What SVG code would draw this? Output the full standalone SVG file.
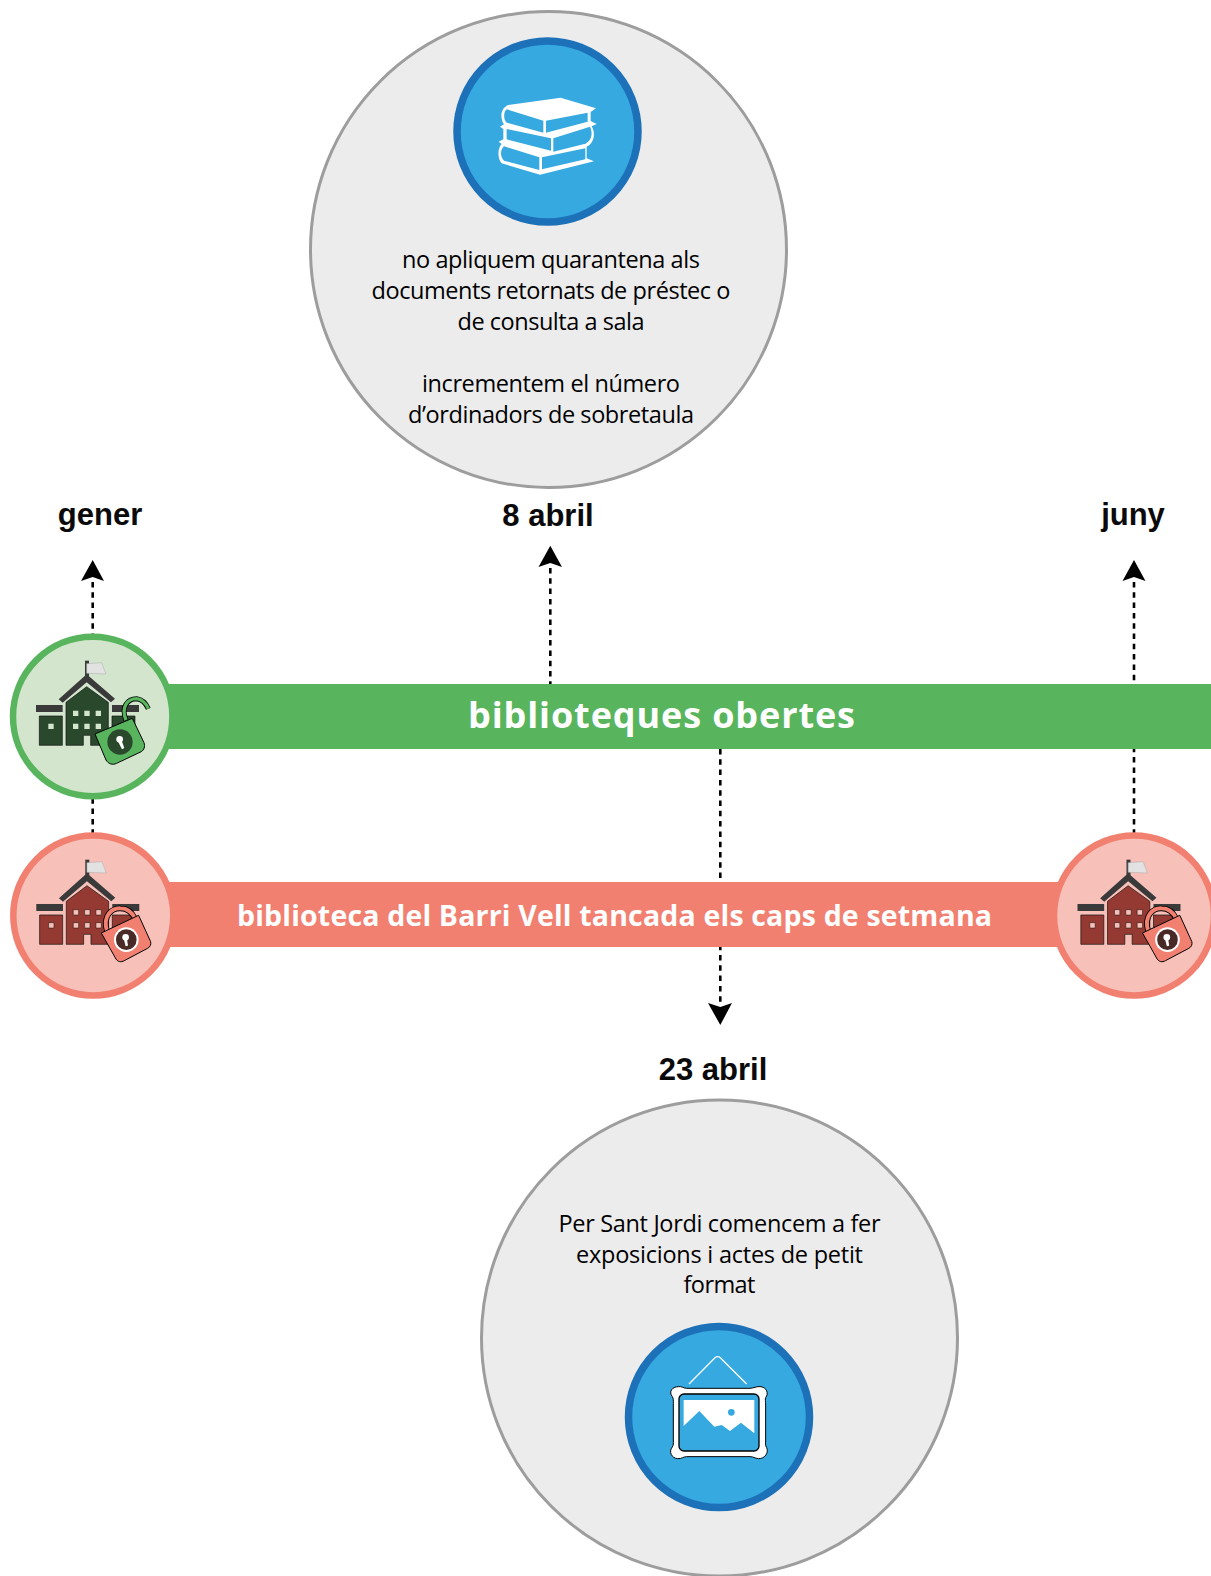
<svg xmlns="http://www.w3.org/2000/svg" width="1211" height="1576" viewBox="0 0 1211 1576">
<style>
.big{fill:#ececec;stroke:#9d9d9d;stroke-width:3}
.ring{fill:#36a9e1;stroke:#1d71b8;stroke-width:7.5}
.body{font-family:"Open Sans","Liberation Sans",sans-serif;font-size:23.5px;fill:#000;text-anchor:middle}
.lab{font-family:"Liberation Sans",Arial,sans-serif;font-weight:700;font-size:31px;fill:#0a0a0a;text-anchor:middle}
.bar{font-family:"Open Sans","Liberation Sans",sans-serif;font-weight:700;fill:#fff;text-anchor:middle}
.dash{fill:none;stroke:#000;stroke-width:2.6;stroke-dasharray:5.5 4.8}
.head{fill:#000}
.w{fill:#fff}.b{fill:#36a9e1}
.g{fill:#2a482c}.gw{fill:#d3e6cd}
.r{fill:#943a32}.rw{fill:#f7c0b8}
.dk{fill:#3a3a3a}.fl{fill:#e2e2e2;stroke:#aaa;stroke-width:1.5}
</style>
<defs>
<g id="frame">
<rect class="dk" x="255" y="122" width="12" height="60"/>
<path class="fl" d="M260,131L305,128L318,162L260,160Z"/>
<path class="dk" d="M176,238L260,163L345,236L333,247L260,187L188,248Z"/>
<rect class="dk" x="108" y="255" width="80" height="21"/>
<rect class="dk" x="336" y="255" width="81" height="21"/>
</g>
<path id="bld" d="M118,288H187V376H118ZM198,247L260,200L325,247V376H272V346H250V376H198ZM336,288H405V376H336Z" stroke="#111" stroke-width="2"/>
<path id="win" d="M145,311h16v16h-16zM219,272h16v16h-16zM253,272h16v16h-16zM287,272h16v16h-16zM219,311h16v16h-16zM253,311h16v16h-16zM287,311h16v16h-16z"/>
<g id="school-red">
<use href="#frame"/><use href="#bld" class="r"/><use href="#win" class="rw" stroke="#111" stroke-width="1.5"/>
<path d="M320,336C306,290 335,267 360,268C385,268 398,285 405,300" fill="none" stroke="#000" stroke-width="17"/>
<path d="M320,336C306,290 335,267 360,268C385,268 398,285 405,300" fill="none" stroke="#f28071" stroke-width="12"/>
<path d="M303,342L415,289L451,368C453,376 450,384 442,388L372,425C362,431 352,428 347,420Z" fill="#f28071" stroke="#000" stroke-width="3"/>
<circle cx="378" cy="362" r="37" fill="#fff"/><circle cx="378" cy="362" r="31" fill="#4a2a26"/>
<circle cx="376" cy="355" r="10" fill="#fff"/><path d="M370,358L380,358L383,380L376,382Z" fill="#fff"/>
</g>
</defs>

<g id="connectors">
<line class="dash" x1="92.7" y1="582" x2="92.7" y2="840"/>
<line class="dash" x1="550.3" y1="568" x2="550.3" y2="750"/>
<line class="dash" x1="720.3" y1="749" x2="720.3" y2="1004"/>
<line class="dash" x1="1134" y1="582" x2="1134" y2="840"/>
<path class="head" d="M92.7,560L104,581L92.7,577L81,581Z"/>
<path class="head" d="M550.3,545.7L562,567L550.3,563L538.5,567Z"/>
<path class="head" d="M720.3,1025L708,1003L720.3,1007L732,1003Z"/>
<path class="head" d="M1134,560L1145.5,581L1134,577L1122.5,581Z"/>
</g>

<g id="bar-open"><rect x="160" y="684" width="1051" height="65" fill="#58b55e"/>
<text class="bar" x="661.5" y="727.5" font-size="36" textLength="387">biblioteques obertes</text></g>
<g id="bar-closed"><rect x="160" y="882" width="910" height="65" fill="#f28071"/>
<text class="bar" x="614.5" y="926" font-size="28.5" textLength="755">biblioteca del Barri Vell tancada els caps de setmana</text></g>

<g id="node-open">
<circle cx="92.7" cy="716.5" r="79.7" fill="#d3e6cd" stroke="#58b55e" stroke-width="6.5"/>
<g transform="translate(0,620) scale(.3333)">
<use href="#frame"/><use href="#bld" class="g"/><use href="#win" class="gw"/>
<path d="M378,300C362,262 382,236 410,236C425,238 438,250 445,266" fill="none" stroke="#000" stroke-width="15"/>
<path d="M378,300C362,262 382,236 410,236C425,238 438,250 445,266" fill="none" stroke="#58b55e" stroke-width="10"/>
<path d="M285,342L397,295L432,368C436,380 432,390 424,395L350,430C338,436 325,432 318,420Z" fill="#58b55e" stroke="#000" stroke-width="3"/>
<circle cx="360" cy="366" r="38" fill="#2a482c"/>
<circle cx="359" cy="358" r="10" fill="#fff"/><path d="M353,362L364,359L373,384L366,388Z" fill="#fff"/>
</g></g>

<g id="node-closed-start">
<circle cx="93.3" cy="915.5" r="80" fill="#f7c0b8" stroke="#f28071" stroke-width="6.5"/>
<use href="#school-red" transform="translate(0.3,819) scale(.3333)"/>
</g>
<g id="node-closed-end">
<circle cx="1134" cy="915.5" r="80" fill="#f7c0b8" stroke="#f28071" stroke-width="6.5"/>
<use href="#school-red" transform="translate(1041.5,819) scale(.3333)"/>
</g>

<g id="node-8-abril">
<circle class="big" cx="548.5" cy="249.5" r="238"/>
<circle class="ring" cx="547.5" cy="131.5" r="90.5"/>
<g transform="translate(440,30) scale(.3333)">
<path class="w" d="M205,225L362,203L468,235L452,246L452,273L470,282L455,289C468,310 462,340 440,350L440,385L462,394L300,434L185,400C172,385 172,355 185,342L176,335L190,328L190,297L180,290L192,283C180,265 180,235 205,225Z"/>
<path class="b" d="M200,238C190,245 190,270 200,278L310,308L310,272Z"/>
<path class="b" d="M318,272L443,248L443,275L318,308Z"/>
<path class="b" d="M200,297L200,328L333,362L333,325Z"/>
<path class="b" d="M340,325L450,290C460,310 455,335 430,343L340,365Z"/>
<path class="b" d="M192,349C180,360 180,380 192,392L298,420L298,382Z"/>
<path class="b" d="M306,382L436,355L436,388L306,418Z"/>
</g>
<text class="body" x="551" y="268" textLength="298">no apliquem quarantena als</text>
<text class="body" x="551" y="299" textLength="359">documents retornats de préstec o</text>
<text class="body" x="551" y="330" textLength="187">de consulta a sala</text>
<text class="body" x="551" y="391.5" textLength="258">incrementem el número</text>
<text class="body" x="551" y="423" textLength="286">d’ordinadors de sobretaula</text>
</g>

<g id="node-23-abril">
<circle class="big" cx="719.5" cy="1338" r="238"/>
<circle class="ring" cx="719" cy="1417" r="90.5"/>
<g transform="translate(615,1315) scale(.3333)">
<path d="M222,207L300,128Q308,122 316,128L395,207" fill="none" stroke="#fff" stroke-width="4"/>
<path class="w" stroke="#000" stroke-width="3" d="M190,215C200,213 205,220 215,220L405,220C415,220 425,213 438,215C455,218 462,235 452,248C450,252 452,260 452,270L452,375C452,385 450,390 455,398C462,412 450,432 430,431C420,430 415,425 405,425L215,425C205,425 200,432 188,431C170,430 160,410 172,396C176,390 175,385 175,375L175,265C175,258 176,250 172,245C160,230 172,215 190,215Z"/>
<rect class="b" x="192" y="237" width="240" height="171" rx="15" stroke="#000" stroke-width="4"/>
<path class="w" d="M206,255H418V355L378,323L345,348L320,330L298,335L253,288L206,333Z"/>
<circle class="b" cx="349" cy="292" r="10"/>
</g>
<text class="body" x="719.5" y="1232" textLength="322">Per Sant Jordi comencem a fer</text>
<text class="body" x="719.5" y="1263" textLength="287">exposicions i actes de petit</text>
<text class="body" x="719.5" y="1293" textLength="72">format</text>
</g>

<g id="labels">
<text class="lab" x="100" y="525">gener</text>
<text class="lab" x="548" y="526">8 abril</text>
<text class="lab" x="1133" y="525">juny</text>
<text class="lab" x="713" y="1080">23 abril</text>
</g>
</svg>
